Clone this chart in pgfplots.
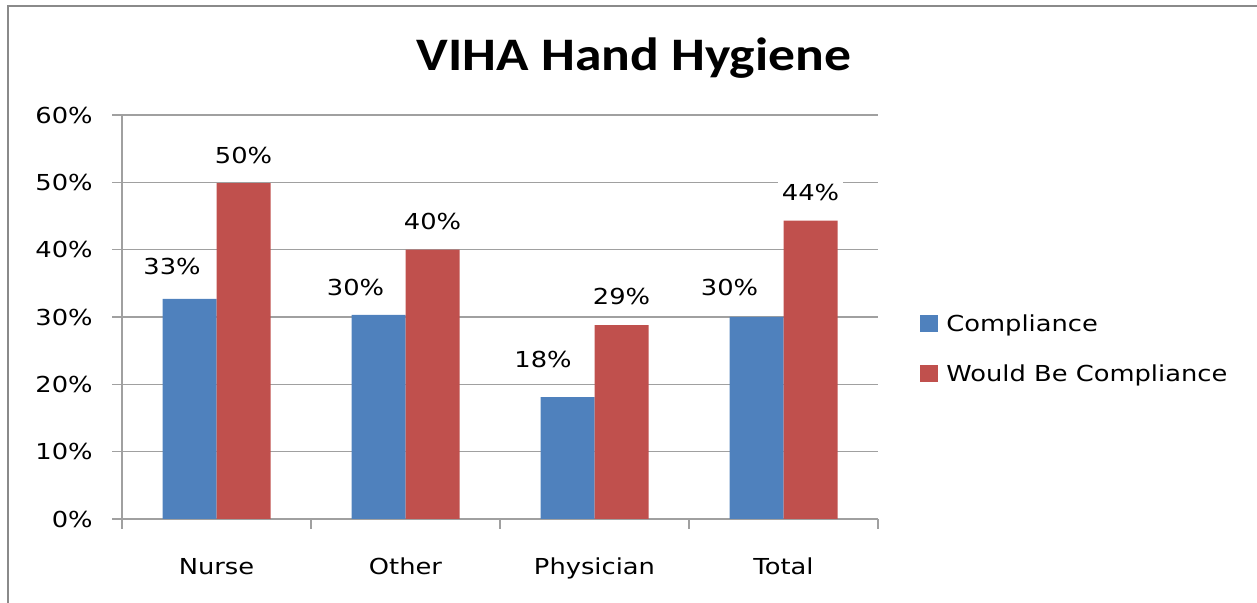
\documentclass[border=0pt]{standalone}
\usepackage{fontspec}
\setmainfont{DejaVu Sans}[FakeStretch=1.17]
\newfontfamily\titlefont{Carlito}[FakeStretch=1.15]
\usepackage{pgfplots}
\usepackage{pgfplotstable}
\pgfplotsset{compat=1.18}
\definecolor{cblue}{HTML}{4F81BD}
\definecolor{cred}{HTML}{C0504D}
\definecolor{gridc}{HTML}{A0A0A0}
\definecolor{framec}{HTML}{8A8A8A}
\pgfplotstableread{
x y dx dy
0 32.7 -8.75 10
1 30.3 -11.5 7.75
2 18.1 -12.25 12.5
3 30.0 -13.5 8.75
}\compl
\pgfplotstableread{
x y dx dy
0 49.9 0 7.75
1 40.0 0 7.75
2 28.8 0 8
3 44.3 0 7.75
}\would
\begin{document}
\begin{tikzpicture}[font=\fontsize{11}{13}\selectfont]
\useasboundingbox (0,0) rectangle (628.5pt,301.5pt);
\draw[framec, line width=1pt] (4pt,0pt) -- (4pt,298.5pt) -- (628.5pt,298.5pt);
\begin{axis}[
  at={(61pt,42pt)}, anchor=south west,
  scale only axis, width=378pt, height=202pt,
  ybar=0pt, bar width=27pt,
  xmin=-0.5, xmax=3.5, ymin=0, ymax=60,
  xtick={-0.5,0.5,1.5,2.5,3.5},
  x tick label as interval,
  xticklabels={Nurse,Other,Physician,Total},
  ytick={0,10,20,30,40,50,60},
  yticklabels={0\%,10\%,20\%,30\%,40\%,50\%,60\%},
  axis x line*=bottom, axis y line*=left,
  axis line style={gridc, line width=0.7pt},
  tick align=outside, major tick length=5pt,
  tick style={gridc, line width=0.7pt},
  ymajorgrids, grid style={gridc, line width=0.7pt},
  xticklabel style={anchor=base, yshift=-23pt, inner sep=0pt},
  yticklabel style={anchor=east, xshift=-9.5pt, inner sep=0pt},
  /pgf/number format/assume math mode=true,
  nodes near coords={\pgfmathprintnumber[fixed,precision=0]{\pgfplotspointmeta}\%},
  nodes near coords style={fill=white, text=black, inner sep=2pt, text height=8pt, text depth=0pt},
  title={\titlefont\bfseries VIHA Hand Hygiene},
  title style={at={(0.6772,1.081)}, anchor=base, inner sep=0pt, font=\fontsize{23.3}{28}\selectfont},
  legend style={draw=none, fill=none, at={(1.0556,0.515)}, anchor=north west, inner sep=0pt,
    row sep=10.5pt, column sep=2pt,
    nodes={inner sep=2pt, text height=8pt, text depth=2.5pt, anchor=base west}},
  legend cell align=left,
  legend image code/.code={\path[#1] (0pt,-0.3pt) rectangle (9pt,8.4pt);},
]
\addplot[fill=cblue, draw=none,
  visualization depends on={\thisrow{dx} \as \dx},
  visualization depends on={\thisrow{dy} \as \dy},
  nodes near coords style={xshift=\dx pt, yshift=\dy pt}] table[x=x,y=y] {\compl};
\addplot[fill=cred, draw=none,
  visualization depends on={\thisrow{dx} \as \dx},
  visualization depends on={\thisrow{dy} \as \dy},
  nodes near coords style={xshift=\dx pt, yshift=\dy pt}] table[x=x,y=y] {\would};
\legend{Compliance, Would Be Compliance}
\end{axis}
\end{tikzpicture}
\end{document}
